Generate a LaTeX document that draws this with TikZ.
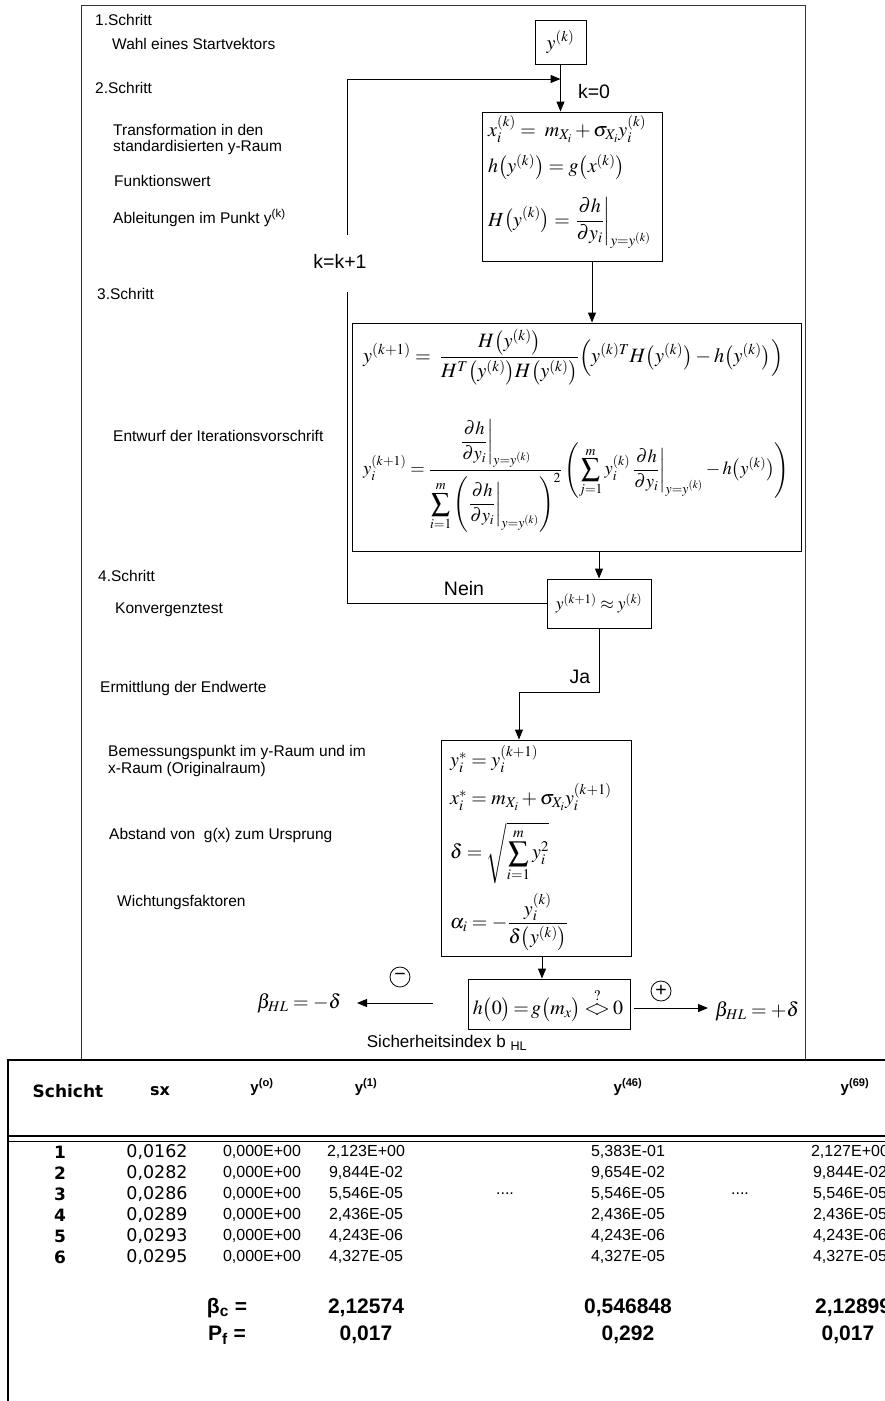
\documentclass[tikz,border=0pt]{standalone}
\usepackage{mathptmx}
\usepackage[no-math]{fontspec}
\setmainfont{Liberation Sans}
\newfontfamily\dvfont{DejaVu Sans}
\usepackage{graphicx}
\usetikzlibrary{arrows.meta}
\newcommand\fsLbl{\fontsize{15.5}{16.5}\selectfont}
\newcommand\fsBig{\fontsize{19.5}{22}\selectfont}
\newcommand\fsMath{\fontsize{20}{24}\selectfont}
\newcommand\fsSmallMath{\fontsize{17.5}{21}\selectfont}
\newcommand\fsSich{\fontsize{17}{20}\selectfont}
\newcommand\fsVal{\fontsize{16}{18}\selectfont}
\newcommand\fsHd{\bfseries\fontsize{15}{17}\selectfont}
\newcommand\fsDv{\dvfont\fontsize{17.5}{19}\selectfont}
\newcommand\fsDvB{\dvfont\bfseries\fontsize{17}{19}\selectfont}
\newcommand\fsRes{\bfseries\fontsize{21}{24}\selectfont}
\newcommand\evalbar{\left.\frac{\partial h}{\partial y_i}\right|_{y=y^{(k)}}}
\newcommand\trow[6]{%
  \node[rnum] (n#1) at (60,#2) {#1};
  \node[rsx] (x#1) at (157,#2) {#3};
  \node[rval] (a#1) at (262,#2) {0,000E+00};
  \node[rval] (b#1) at (366,#2) {#4};
  \node[rval] (c#1) at (628,#2) {#5};
  \node[rval] (d#1) at (850,#2) {#6};
}
\tikzset{
  outerframe/.style={draw=black!80, line width=0.9pt},
  fbox/.style={draw, line width=1pt, inner sep=0pt},
  arr/.style={line width=1pt, -{Triangle[length=10pt,width=8pt]}},
  ln/.style={line width=1pt},
  lbl/.style={anchor=west, inner sep=0pt, font=\fsLbl, align=left},
  bigl/.style={inner sep=0pt, font=\fsBig},
  eq/.style={anchor=west, inner sep=0pt, font=\fsMath},
  sign/.style={draw, circle, line width=0.8pt, minimum size=20pt, inner sep=0pt, font=\fsBig},
  thd/.style={inner sep=0pt, font=\fsHd},
  rnum/.style={inner sep=0pt, font=\fsDvB},
  rsx/.style={inner sep=0pt, font=\fsDv},
  rval/.style={inner sep=0pt, font=\fsVal},
  rres/.style={inner sep=0pt, font=\fsRes},
}
\begin{document}
\begin{tikzpicture}[x=1pt,y=-1pt]
\useasboundingbox (0,0) rectangle (885,1401);
\draw[outerframe] (81,5) rectangle (805,1060);

% left-hand labels
\node[lbl] (s1) at (95,20) {1.Schritt};
\node[lbl] (s1a) at (112,44) {Wahl eines Startvektors};
\node[lbl] (s2) at (95,88) {2.Schritt};
\node[lbl] (s2a) at (113,139.5) {Transformation in den\\standardisierten y-Raum};
\node[lbl] (s2b) at (114,181) {Funktionswert};
\node[lbl] (s2c) at (113,218) {Ableitungen im Punkt y\textsuperscript{(k)}};
\node[lbl] (s3) at (97,294) {3.Schritt};
\node[lbl] (s3a) at (113,436) {Entwurf der Iterationsvorschrift};
\node[lbl] (s4) at (98,576) {4.Schritt};
\node[lbl] (s4a) at (115,610) {Konvergenztest};
\node[lbl] (s5) at (100,688) {Ermittlung der Endwerte};
\node[lbl] (s5a) at (108,761) {Bemessungspunkt im y-Raum und im\\x-Raum (Originalraum)};
\node[lbl] (s5b) at (109,835) {Abstand von~~g(x) zum Ursprung};
\node[lbl] (s5c) at (117,902) {Wichtungsfaktoren};

% boxes
\node[fbox, minimum width=51pt, minimum height=44pt] (b1) at (560.5,42) {};
\node[eq, anchor=center] (b1t) at (b1) {$y^{(k)}$};

\node[fbox, minimum width=180pt, minimum height=149pt] (b2) at (572,186.5) {};
\node[eq] (e21) at (488,129) {$x_i^{(k)} =\; m_{X_i} + \sigma_{X_i} y_i^{(k)}$};
\node[eq] (e22) at (488,167) {$h\bigl(y^{(k)}\bigr) = g\bigl(x^{(k)}\bigr)$};
\node[eq] (e23) at (488,223) {$\displaystyle H\bigl(y^{(k)}\bigr) = \evalbar$};

\node[fbox, minimum width=449pt, minimum height=228pt] (b3) at (576.5,437) {};
\node[eq] (e31) at (363,357) {\resizebox{420pt}{!}{$\displaystyle y^{(k+1)} =\; \frac{H\bigl(y^{(k)}\bigr)}{H^T\bigl(y^{(k)}\bigr)H\bigl(y^{(k)}\bigr)}\Bigl(y^{(k)T}H\bigl(y^{(k)}\bigr) - h\bigl(y^{(k)}\bigr)\Bigr)$}};
\node[eq] (e32) at (363,476) {\resizebox{426pt}{!}{$\displaystyle y_i^{(k+1)} = \frac{\displaystyle\evalbar}{\displaystyle\sum_{i=1}^{m}\left(\evalbar\right)^{2}}\left(\sum_{j=1}^{m} y_i^{(k)}\evalbar - h\bigl(y^{(k)}\bigr)\right)$}};

\node[fbox, minimum width=104pt, minimum height=49pt] (b4) at (599,603.5) {};
\node[eq, anchor=center, font=\fsSmallMath] (b4t) at (b4) {$y^{(k+1)} \approx y^{(k)}$};

\node[fbox, minimum width=190pt, minimum height=216pt] (b5) at (536,848) {};
\node[eq] (e51) at (450,759) {$y_i^{*} = y_i^{(k+1)}$};
\node[eq] (e52) at (450,797) {$x_i^{*} = m_{X_i} + \sigma_{X_i} y_i^{(k+1)}$};
\node[eq] (e53) at (450,853) {$\displaystyle \delta = \sqrt{\sum_{i=1}^{m} y_i^{2}}$};
\node[eq] (e54) at (450,922) {$\displaystyle \alpha_i = -\frac{y_i^{(k)}}{\delta\bigl(y^{(k)}\bigr)}$};

\node[fbox, minimum width=162pt, minimum height=50pt] (b6) at (549,1004) {};
\node[eq, anchor=center] (b6t) at (548,1005) {$h\bigl(0\bigr)\mkern-2mu=\mkern-2mu g\bigl(m_x\bigr)\mkern-1mu\stackrel{?}{{<}\mkern-5mu{>}}\mkern-1mu 0$};

% connectors
\coordinate (lpA) at (347,79);
\coordinate (lpB) at (347,235);
\coordinate (lpC) at (347,292);
\draw[ln] (b4.west) -| (lpC);
\draw[arr] (lpB) |- (b1.south |- lpA);
\draw[arr] (b1.south) -- (b1.south |- b2.north);
\draw[arr] ([xshift=20pt]b2.south) -- ([xshift=20pt]b2.south |- b3.north);
\draw[arr] (b3.south -| b4.north) -- (b4.north);
\coordinate (st) at (519,692);
\draw[arr] (b4.south) |- (st) -- (st |- b5.north);
\draw[arr] ([xshift=-7pt]b6.north |- b5.south) -- ([xshift=-7pt]b6.north);
\coordinate (la1) at (433,1003);
\coordinate (la2) at (357,1003);
\draw[arr] (la1) -- (la2);
\coordinate (ra1) at (634,1008);
\coordinate (ra2) at (708,1008);
\draw[arr] (ra1) -- (ra2);

% connector labels
\node[bigl] (k0) at (594,92) {k=0};
\node[bigl] (kk) at (340,261) {k=k+1};
\node[bigl] (nein) at (464,589) {Nein};
\node[bigl] (ja) at (580,677) {Ja};
\node[sign] (minus) at (400,977) {\raisebox{1pt}{−}};
\node[sign] (plus) at (661,991) {\raisebox{1pt}{+}};
\node[eq, anchor=center] (bl) at (299,1003) {$\beta_{HL} = -\delta$};
\node[eq, anchor=center] (br) at (757,1011) {$\beta_{HL} = +\delta$};
\node[inner sep=0pt, font=\fsSich] (si) at (447,1043) {Sicherheitsindex b \textsubscript{HL}};

% table
\draw[line width=2pt] (8,1401) -- (8,1060) -- (885,1060);
\draw[line width=1.8pt] (8,1136) -- (885,1136);
\draw[line width=0.9pt] (8,1141.5) -- (885,1141.5);

\node[inner sep=0pt, font=\dvfont\bfseries\fontsize{17}{19}\selectfont] (hs) at (68,1091) {Schicht};
\node[inner sep=0pt, font=\dvfont\bfseries\fontsize{16}{18}\selectfont] (hsx) at (160,1091) {sx};
\node[thd] (h0) at (262,1087) {y\textsuperscript{(o)}};
\node[thd] (h1) at (366,1087) {y\textsuperscript{(1)}};
\node[thd] (h46) at (628,1087) {y\textsuperscript{(46)}};
\node[thd] (h69) at (855,1087) {y\textsuperscript{(69)}};

\trow{1}{1152}{0,0162}{2,123E+00}{5,383E-01}{2,127E+00}
\trow{2}{1173}{0,0282}{9,844E-02}{9,654E-02}{9,844E-02}
\trow{3}{1194}{0,0286}{5,546E-05}{5,546E-05}{5,546E-05}
\trow{4}{1215}{0,0289}{2,436E-05}{2,436E-05}{2,436E-05}
\trow{5}{1236}{0,0293}{4,243E-06}{4,243E-06}{4,243E-06}
\trow{6}{1257}{0,0295}{4,327E-05}{4,327E-05}{4,327E-05}
\node[rval] (dots1) at (505,1194) {....};
\node[rval] (dots2) at (740,1194) {....};

\node[rres] (bc) at (227,1308) {β\textsubscript{c} =};
\node[rres] (bc1) at (366,1308) {2,12574};
\node[rres] (bc2) at (628,1308) {0,546848};
\node[rres, anchor=west] (bc3) at (815,1308) {2,12899};
\node[rres] (pf) at (227,1335) {P\textsubscript{f} =};
\node[rres] (pf1) at (366,1335) {0,017};
\node[rres] (pf2) at (628,1335) {0,292};
\node[rres] (pf3) at (848,1335) {0,017};
\end{tikzpicture}
\end{document}
